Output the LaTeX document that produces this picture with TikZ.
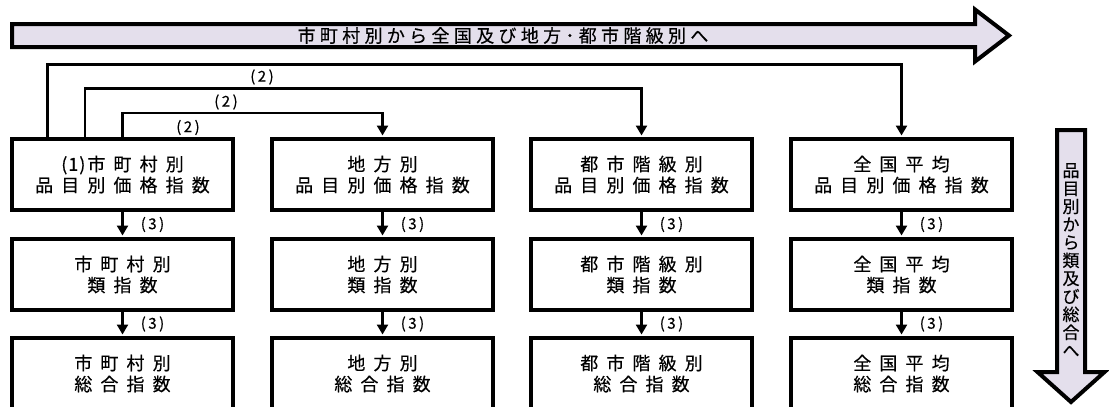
\documentclass[tikz,border=0pt]{standalone}
\usepackage{fontspec}
\setmainfont{Noto Sans CJK JP}
\newfontfamily\jpbox[LetterSpace=45,FakeBold=0.4]{Noto Sans CJK JP}
\newfontfamily\jptop[LetterSpace=24,FakeBold=0.4]{Noto Sans CJK JP}
\newfontfamily\jpn[FakeBold=0.4]{Noto Sans CJK JP}
\usetikzlibrary{arrows.meta}
\definecolor{lav}{HTML}{E4DFEC}
\begin{document}
\begin{tikzpicture}[x=1pt,y=-1pt,
  box/.style={draw, line width=4pt, minimum width=221pt, minimum height=71pt,
    inner sep=0pt, align=center, font={\jpbox\fontsize{18}{21}\selectfont}},
  conn/.style={line width=2.8pt},
  arr/.style={-{Triangle[length=10pt,width=11pt]}, shorten >=1.5pt},
  lbl/.style={font={\jpn\fontsize{15}{15}\selectfont}, inner sep=0pt},
  bigarrow/.style={draw, line width=4pt, fill=lav, line join=miter, miter limit=10}
]
\useasboundingbox (0,0) rectangle (1109,407);

% big arrows
\draw[bigarrow] (12,24) -- (975,24) -- (975,9.5) -- (1009,35.5) -- (975,61.5) -- (975,47) -- (12,47) -- cycle;
\node[font={\jptop\fontsize{18}{18}\selectfont}, inner sep=0pt] (tt) at (503,35.5) {市町村別から全国及び地方･都市階級別へ};

\draw[bigarrow] (1057,130) -- (1085,130) -- (1085,372) -- (1104.5,372) -- (1071,402) -- (1037.5,372) -- (1057,372) -- cycle;
\node[font={\jpn\fontsize{17}{18}\selectfont}, align=center, inner sep=0pt] (vt) at (1071,260)
  {品\\目\\別\\か\\ら\\類\\及\\び\\総\\合\\へ};

% boxes
\node[box] (a1) at (122.5,174.5) {{\jpn(\kern1pt1\kern1pt)\kern2pt}市町村別\\品目別価格指数};
\node[box] (a2) at (382.5,174.5) {地方別\\品目別価格指数};
\node[box] (a3) at (641.5,174.5) {都市階級別\\品目別価格指数};
\node[box] (a4) at (901.5,174.5) {全国平均\\品目別価格指数};

\node[box] (b1) at (122.5,274.5) {市町村別\\類指数};
\node[box] (b2) at (382.5,274.5) {地方別\\類指数};
\node[box] (b3) at (641.5,274.5) {都市階級別\\類指数};
\node[box] (b4) at (901.5,274.5) {全国平均\\類指数};

\node[box] (c1) at (122.5,373.5) {市町村別\\総合指数};
\node[box] (c2) at (382.5,373.5) {地方別\\総合指数};
\node[box] (c3) at (641.5,373.5) {都市階級別\\総合指数};
\node[box] (c4) at (901.5,373.5) {全国平均\\総合指数};

% vertical connectors
\foreach \i in {1,2,3,4}{
  \draw[conn,arr] (a\i.south) -- (b\i.north);
  \draw[conn,arr] (b\i.south) -- (c\i.north);
}
\foreach \x/\n in {122.5/1,382.5/2,641.5/3,901.5/4}{
  \node[lbl] (m\n) at (\x+30,224.5) {(\kern2.5pt3\kern2.5pt)};
  \node[lbl] (n\n) at (\x+30,324) {(\kern2.5pt3\kern2.5pt)};
}

% top connectors
\coordinate (p1) at (47.5,64.5);
\coordinate (p2) at (85,88.5);
\coordinate (p3) at (122.5,113);
\draw[conn,arr] (a1.north -| p1) -- (p1) -| (a4.north);
\draw[conn,arr] (a1.north -| p2) -- (p2) -| (a3.north);
\draw[conn,arr] (a1.north) -- (p3) -| (a2.north);

\node[lbl] (q1) at (262,77) {(\kern2.5pt2\kern2.5pt)};
\node[lbl] (q2) at (226,102) {(\kern2.5pt2\kern2.5pt)};
\node[lbl] (q3) at (188,127.5) {(\kern2.5pt2\kern2.5pt)};
\end{tikzpicture}
\end{document}
